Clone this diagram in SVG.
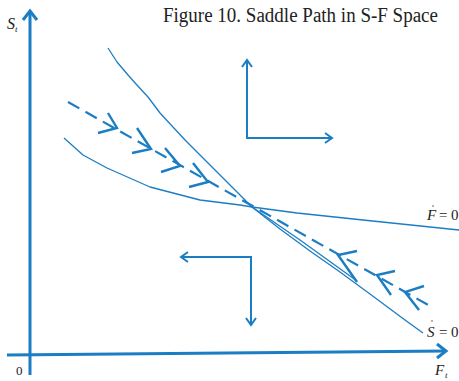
<svg xmlns="http://www.w3.org/2000/svg" width="459" height="381" viewBox="0 0 459 381">
<style>
.ax{fill:none;stroke:#1b7dc3;stroke-width:3;stroke-linecap:butt}
.cv{fill:none;stroke:#1b7dc3;stroke-width:1.3;stroke-linejoin:round}
.ds{fill:none;stroke:#1b7dc3;stroke-width:2.2;stroke-dasharray:13 7}
.ah{fill:none;stroke:#1b7dc3;stroke-width:2.4;stroke-linecap:butt;stroke-linejoin:miter}
.qa{fill:none;stroke:#1b7dc3;stroke-width:2}
.t{font-family:"Liberation Serif","Times New Roman",serif;fill:#222}
.i{font-style:italic}
</style>
<rect width="459" height="381" fill="#fff"/>
<text class="t" x="163" y="22" font-size="20" textLength="275" lengthAdjust="spacingAndGlyphs">Figure 10. Saddle Path in S-F Space</text>
<g id="axes">
<path class="ax" d="M30,375 V11"/>
<path class="ax" d="M23,20 L30,11 L37,20"/>
<path class="ax" d="M7,355 L446,351"/>
<path class="ax" d="M437,344 L446,351 L437,358"/>
<text class="t i" x="7" y="29" font-size="16">S</text>
<text class="t i" x="15" y="32" font-size="9">t</text>
<text class="t" x="16" y="375" font-size="13">0</text>
<text class="t i" x="435" y="375" font-size="15">F</text>
<text class="t i" x="445" y="378" font-size="9">t</text>
</g>
<g id="curve-S0">
<path class="cv" d="M108,48 L117,62 L128,75 L136,84 L148,97 L160,113 L185,140 L215,170 L235,190 L252,207 L280,229 L310,251 L340,272 L370,294 L405,320 L423,333"/>
<path class="cv" d="M252,207 L300,240 L357,281"/>
<text class="t i" x="427" y="337" font-size="15">S</text>
<circle cx="432" cy="321" r="0.8" fill="#555"/>
<text class="t" x="439" y="337" font-size="15">=</text>
<text class="t" x="451" y="337" font-size="15">0</text>
</g>
<g id="curve-F0">
<path class="cv" d="M64,138 L83,155 L107,168 L150,187 L200,200 L240,205 L252,207 L297,213 L363,220 L459,230"/>
<text class="t i" x="427" y="220" font-size="15">F</text>
<circle cx="433" cy="206" r="0.8" fill="#555"/>
<text class="t" x="439" y="220" font-size="15">=</text>
<text class="t" x="451" y="220" font-size="15">0</text>
</g>
<g id="saddle-path">
<path class="ds" d="M68,102 L430,306"/>
<path class="ah" d="M108,113 L117,128 L98,133"/>
<path class="ah" d="M137,128 L151,149 L132,153"/>
<path class="ah" d="M165,148 L180,166 L161,172"/>
<path class="ah" d="M193,163 L208,182 L189,187"/>
<path class="ah" d="M357,251 L338,255 L357,282"/>
<path class="ah" d="M395,271 L377,275 L391,295"/>
<path class="ah" d="M424,286 L405,292 L419,310"/>
</g>
<g id="arrows-upper">
<path class="qa" d="M247,60 V138 H332"/>
<path class="qa" d="M242,67 L247,60 L252,67"/>
<path class="qa" d="M325,133 L332,138 L325,143"/>
</g>
<g id="arrows-lower">
<path class="qa" d="M181,257 H251 V325"/>
<path class="qa" d="M188,252 L181,257 L188,262"/>
<path class="qa" d="M246,318 L251,325 L256,318"/>
</g>
</svg>
